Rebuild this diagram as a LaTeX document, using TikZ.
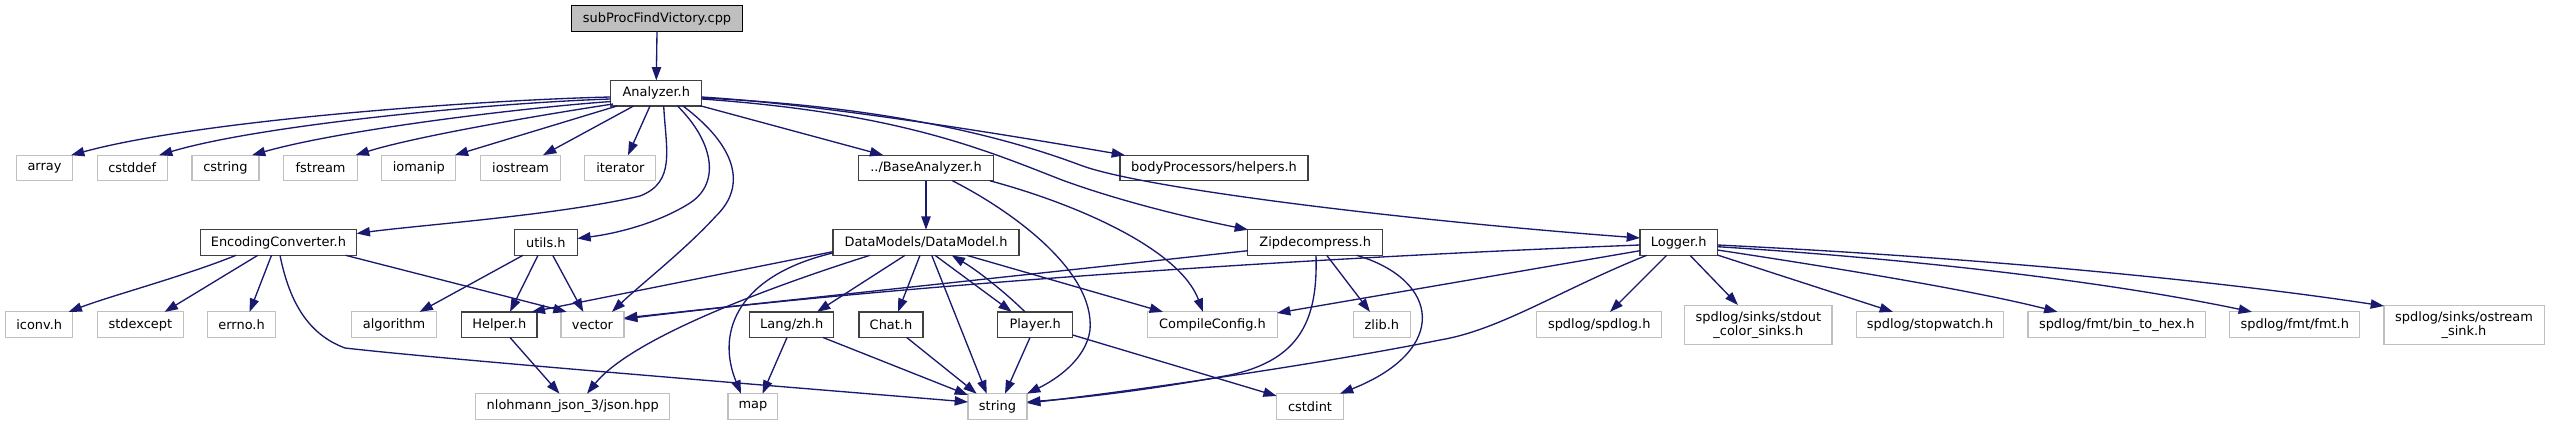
\documentclass[tikz,border=0pt]{standalone}
\usepackage{fontspec}
\setmainfont{DejaVu Sans}
\usetikzlibrary{arrows.meta,calc}
\definecolor{edgec}{HTML}{191970}
\definecolor{lightbd}{HTML}{C0C0C0}
\definecolor{darkbd}{HTML}{404040}
\definecolor{rootfill}{HTML}{BFBFBF}
\begin{document}
\begin{tikzpicture}[x=0.75pt,y=-0.75pt,
  base/.style={rectangle,inner sep=0pt,minimum height=19.2pt,align=center,
    font=\fontsize{9.7}{10.6}\selectfont},
  gn/.style={base,draw=lightbd,line width=0.8pt,fill=white},
  dn/.style={base,draw=darkbd,line width=1pt,fill=white},
  rn/.style={base,draw=black,line width=0.8pt,fill=rootfill},
  tall/.style={minimum height=29.5pt},
  bw/.style={minimum width=#1*0.75pt},
  ed/.style={draw=edgec,line width=1pt,-{Triangle[length=10pt,width=7pt]}}]
\useasboundingbox (0,0) rectangle (2555,425);
% row 0,1
\node[rn,bw=171] (sub) at (657,18.5) {subProcFindVictory.cpp};
\node[dn,bw=91] (A) at (656.3,93.2) {Analyzer.h};
% row 2
\node[gn,bw=56] (arr) at (44.5,168) {array};
\node[gn,bw=70] (cdf) at (132.2,168) {cstddef};
\node[gn,bw=67] (cstr) at (225.5,168) {cstring};
\node[gn,bw=74] (fst) at (320.6,168) {fstream};
\node[gn,bw=74] (iom) at (418.8,168) {iomanip};
\node[gn,bw=80] (ios) at (520.6,168) {iostream};
\node[gn,bw=71] (itr) at (620.4,168) {iterator};
\node[dn,bw=134.6] (BA) at (926,168) {../BaseAnalyzer.h};
\node[dn,bw=188] (bp) at (1214,168) {bodyProcessors/helpers.h};
% row 3
\node[dn,bw=156.4] (EC) at (278.4,242.5) {EncodingConverter.h};
\node[dn,bw=63] (ut) at (545.8,242.5) {utils.h};
\node[dn,bw=186.3] (DM) at (926,242.5) {DataModels/DataModel.h};
\node[dn,bw=135] (Zip) at (1315.2,242.5) {Zipdecompress.h};
\node[dn,bw=77.3] (Lg) at (1678.7,242.5) {Logger.h};
% row 4
\node[gn,bw=67.5] (icv) at (39.2,324.7) {iconv.h};
\node[gn,bw=85.6] (sde) at (140.4,324.7) {stdexcept};
\node[gn,bw=67.5] (ern) at (241.6,324.7) {errno.h};
\node[gn,bw=85] (alg) at (394.1,324.7) {algorithm};
\node[dn,bw=75.5] (Hlp) at (499.3,324.7) {Helper.h};
\node[gn,bw=63] (vec) at (592.5,324.7) {vector};
\node[dn,bw=84] (Lz) at (791.8,324.7) {Lang/zh.h};
\node[dn,bw=64] (Ch) at (891,324.7) {Chat.h};
\node[dn,bw=75] (Pl) at (1035.2,324.7) {Player.h};
\node[gn,bw=129.3] (CC) at (1212.4,324.7) {CompileConfig.h};
\node[gn,bw=57.7] (zl) at (1381.9,324.7) {zlib.h};
\node[gn,bw=125] (spd) at (1599.2,324.7) {spdlog/spdlog.h};
\node[gn,tall,bw=147.2] (sco) at (1758.4,324.7) {spdlog/sinks/stdout\\\_color\_sinks.h};
\node[gn,bw=146.4] (stw) at (1930,324.7) {spdlog/stopwatch.h};
\node[gn,bw=177.7] (bth) at (2116.8,324.7) {spdlog/fmt/bin\_to\_hex.h};
\node[gn,bw=130] (fmt) at (2294.8,324.7) {spdlog/fmt/fmt.h};
\node[gn,tall,bw=160] (osk) at (2464,324.7) {spdlog/sinks/ostream\\\_sink.h};
% row 5
\node[gn,bw=194.2] (js) at (572.7,406.5) {nlohmann\_json\_3/json.hpp};
\node[gn,bw=49.8] (mp) at (752.9,406.5) {map};
\node[gn,bw=59] (str) at (997.5,406.5) {string};
\node[gn,bw=66.6] (cdi) at (1310,406.5) {cstdint};
% edges
\draw[ed] ($(sub)+(0,12.8)$) -- ($(A)+(0,-12.8)$);
\draw[ed] ($(A)+(-45.8,3.8)$) .. controls (480,100) and (200,120) .. ($(arr)+(26.5,-12.8)$);
\draw[ed] ($(A)+(-45.8,5.8)$) .. controls (490,103) and (260,125) .. ($(cdf)+(26.8,-12.8)$);
\draw[ed] ($(A)+(-45.3,8.3)$) .. controls (520,108) and (340,130) .. ($(cstr)+(26.5,-12.8)$);
\draw[ed] ($(A)+(-43.3,10.8)$) .. controls (560,112) and (420,135) .. ($(fst)+(35,-12.8)$);
\draw[ed] ($(A)+(-39.3,12.8)$) -- ($(iom)+(36,-12.8)$);
\draw[ed] ($(A)+(-22.7,12.8)$) -- ($(ios)+(22.4,-12.8)$);
\draw[ed] ($(A)+(-6.3,12.8)$) -- ($(itr)+(7.6,-12.8)$);
\draw[ed] ($(A)+(7.4,12.8)$) .. controls (666,150) and (676,182) .. (640,196)
  .. controls (560,215) and (420,225) .. ($(EC)+(78.2,-9)$);
\draw[ed] ($(A)+(21.2,12.8)$) .. controls (712,140) and (722,182) .. (690,203)
  .. controls (660,222) and (620,233) .. ($(ut)+(31.5,-4)$);
\draw[ed] ($(A)+(26.7,12.8)$) .. controls (735,145) and (748,185) .. (716,216)
  .. controls (685,250) and (640,285) .. ($(vec)+(19.5,-12.8)$);
\draw[ed] ($(A)+(43.7,12.5)$) -- ($(BA)+(-42.7,-12.8)$);
\draw[ed] ($(A)+(45.4,3.8)$) .. controls (800,103) and (950,125) .. ($(bp)+(-89,-12.8)$);
\draw[ed] ($(A)+(45.4,5.8)$) .. controls (900,113) and (985,150) .. (1062,180)
  .. controls (1125,203) and (1195,219) .. ($(Zip)+(-67.2,-12.8)$);
\draw[ed] ($(A)+(45.4,4.8)$) .. controls (880,106) and (1000,135) .. (1080,165)
  .. controls (1140,188) and (1400,220) .. ($(Lg)+(-38.7,-4.5)$);
% BaseAnalyzer
\draw[ed] ($(BA)+(0,12.8)$) -- ($(DM)+(0,-12.8)$);
\draw[ed] ($(BA)+(26.5,12.8)$) .. controls (1010,210) and (1095,270) .. (1090,330)
  .. controls (1086,360) and (1055,380) .. ($(str)+(29.5,-12.8)$);
\draw[ed] ($(BA)+(64,12.8)$) .. controls (1080,205) and (1180,250) .. ($(CC)+(-9.4,-12.8)$);
% DataModel
\draw[ed] ($(DM)+(-93.2,9.2)$) -- ($(Hlp)+(32.4,-12.8)$);
\draw[ed] ($(DM)+(-56,12.8)$) .. controls (760,290) and (630,340) .. ($(js)+(14.3,-12.8)$);
\draw[ed] ($(DM)+(-93.3,10.5)$) .. controls (740,275) and (715,330) .. ($(mp)+(-11.9,-12.8)$);
\draw[ed] ($(DM)+(-21,12.8)$) -- ($(Lz)+(25.2,-12.8)$);
\draw[ed] ($(DM)+(-6,12.8)$) -- ($(Ch)+(7,-12.8)$);
\draw[ed] ($(DM)+(5.7,12.8)$) -- ($(str)+(-10.8,-12.8)$);
\draw[ed] ($(DM)+(9,12.8)$) -- ($(Pl)+(-23.5,-12.8)$);
\draw[ed] ($(Pl)+(-10.2,-12.8)$) .. controls (1008,295) and (980,272) .. ($(DM)+(25.7,12.8)$);
\draw[ed] ($(DM)+(40.7,12.8)$) -- ($(CC)+(-49.4,-12.8)$);
% row 4 sources
\draw[ed] ($(Ch)+(15.7,12.8)$) -- ($(str)+(-20.8,-12.8)$);
\draw[ed] ($(Pl)+(-5.2,12.8)$) -- ($(str)+(7.5,-12.8)$);
\draw[ed] ($(Pl)+(37.5,10.3)$) -- ($(cdi)+(-33.3,-10.5)$);
\draw[ed] ($(Lz)+(-4.8,12.8)$) -- ($(mp)+(9.6,-12.8)$);
\draw[ed] ($(Lz)+(31.2,12.8)$) -- ($(str)+(-29.5,-11.5)$);
\draw[ed] ($(Hlp)+(10.7,12.8)$) -- ($(js)+(-13.2,-12.8)$);
% EncodingConverter
\draw[ed] ($(EC)+(1.6,12.8)$) .. controls (290,305) and (310,335) .. (345,348)
  .. controls (450,360) and (800,388) .. ($(str)+(-29.5,-4.5)$);
\draw[ed] ($(EC)+(-42.4,12.8)$) .. controls (185,276) and (110,296) .. ($(icv)+(29.4,-12.8)$);
\draw[ed] ($(EC)+(-20.6,12.8)$) -- ($(sde)+(24.2,-12.8)$);
\draw[ed] ($(EC)+(-6.9,12.8)$) -- ($(ern)+(8,-12.8)$);
\draw[ed] ($(EC)+(67.2,12.8)$) -- ($(vec)+(-25.8,-12.8)$);
% utils
\draw[ed] ($(ut)+(-22.8,12.8)$) -- ($(alg)+(25.5,-12.8)$);
\draw[ed] ($(ut)+(-7.8,12.8)$) -- ($(Hlp)+(10.7,-12.8)$);
\draw[ed] ($(ut)+(6.9,12.8)$) -- ($(vec)+(-9.2,-12.8)$);
% Zipdecompress
\draw[ed] ($(Zip)+(-67.2,8.2)$) -- ($(vec)+(31.5,-6.7)$);
\draw[ed] ($(Zip)+(0.8,12.8)$) .. controls (1318,320) and (1300,360) .. (1230,375)
  .. controls (1150,390) and (1080,398) .. ($(str)+(29.5,-4.5)$);
\draw[ed] ($(Zip)+(11.5,12.8)$) -- ($(zl)+(-11.9,-12.8)$);
\draw[ed] ($(Zip)+(41.5,12.8)$) .. controls (1440,280) and (1450,350) .. ($(cdi)+(30,-12.8)$);
% Logger
\draw[ed] ($(Lg)+(-38.7,2.5)$) .. controls (1300,258) and (900,285) .. ($(vec)+(31.5,-5.7)$);
\draw[ed] ($(Lg)+(-38.7,8.2)$) -- ($(CC)+(64.6,-11.7)$);
\draw[ed] ($(Lg)+(-32,12.8)$) .. controls (1560,290) and (1500,330) .. (1440,340)
  .. controls (1300,368) and (1100,395) .. ($(str)+(29.5,-3.5)$);
\draw[ed] ($(Lg)+(-12,12.8)$) -- ($(spd)+(10.8,-12.8)$);
\draw[ed] ($(Lg)+(11.3,12.8)$) -- ($(sco)+(-20.4,-19.7)$);
\draw[ed] ($(Lg)+(38.7,12.5)$) -- ($(stw)+(-37,-12.8)$);
\draw[ed] ($(Lg)+(38.7,7.5)$) .. controls (1850,270) and (1980,292) .. ($(bth)+(-59.3,-12.8)$);
\draw[ed] ($(Lg)+(38.7,4.2)$) .. controls (1900,258) and (2100,280) .. ($(fmt)+(-42.8,-12.8)$);
\draw[ed] ($(Lg)+(38.7,2.5)$) .. controls (1950,256) and (2200,278) .. ($(osk)+(-80,-18.7)$);
\end{tikzpicture}
\end{document}
